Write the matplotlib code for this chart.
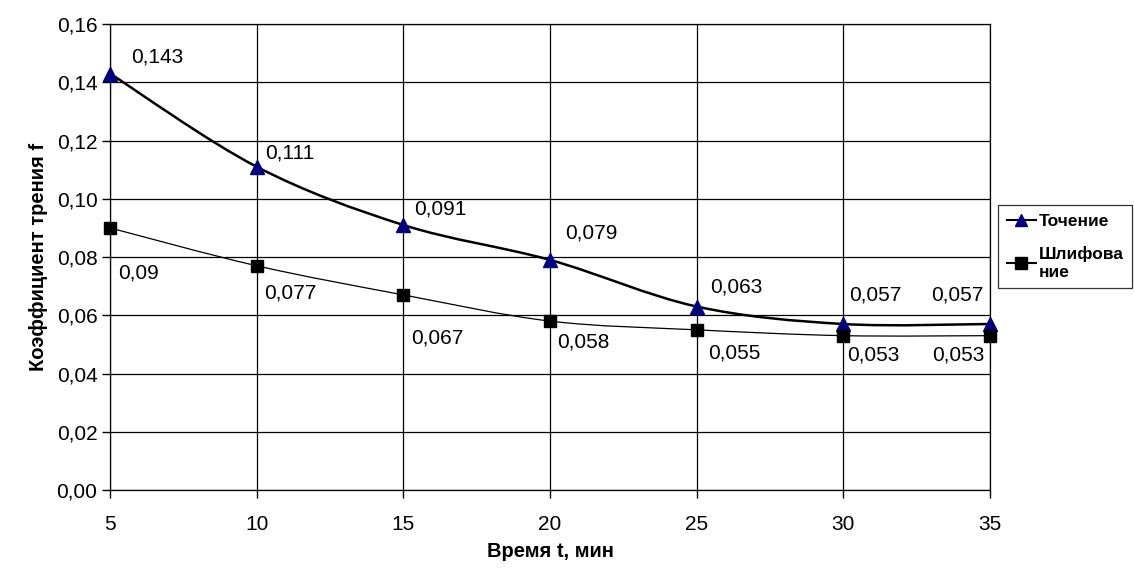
import matplotlib.pyplot as plt
import numpy as np
from matplotlib.path import Path
from matplotlib.patches import PathPatch
from matplotlib.lines import Line2D
from matplotlib.ticker import FuncFormatter

plt.rcParams['font.family'] = ['Liberation Sans', 'DejaVu Sans']

# data
time_min = [5, 10, 15, 20, 25, 30, 35]
tochenie = [0.143, 0.111, 0.091, 0.079, 0.063, 0.057, 0.057]
shlifovanie = [0.09, 0.077, 0.067, 0.058, 0.055, 0.053, 0.053]
name_toch = "Точение"
name_shlif = "Шлифова\nние"

# label offsets in pixels (centre of text relative to marker, y down)
off_toch = [(47, -17), (33, -14), (37, -16), (41, -27), (40, -20), (32, -29), (-33, -29)]
off_shlif = [(29, 45), (34, 27), (34, 43), (33, 21), (38, 23), (30, 19), (-32, 19)]

FS = 15


def smooth_path(xs, ys):
    # Catmull-Rom -> cubic bezier, like excel smoothed lines
    p = np.column_stack([xs, ys]).astype(float)
    pts = np.vstack([p[0], p, p[-1]])
    verts = [p[0]]
    codes = [Path.MOVETO]
    for i in range(1, len(pts) - 2):
        c1 = pts[i] + (pts[i + 1] - pts[i - 1]) / 6.0
        c2 = pts[i + 1] - (pts[i + 2] - pts[i]) / 6.0
        verts += [c1, c2, pts[i + 1]]
        codes += [Path.CURVE4] * 3
    return Path(verts, codes)


fig = plt.figure(figsize=(11.34, 5.68), dpi=100)
ax = fig.add_axes([0.097, 0.1373, 0.776, 0.8204])

ax.add_patch(PathPatch(smooth_path(time_min, tochenie), fc='none', ec='black', lw=1.8, zorder=3))
ax.add_patch(PathPatch(smooth_path(time_min, shlifovanie), fc='none', ec='black', lw=0.9, zorder=3))
ax.plot(time_min, tochenie, ls='none', marker='^', ms=10, color='#000080', zorder=4, clip_on=False)
ax.plot(time_min, shlifovanie, ls='none', marker='s', ms=8.5, color='black', zorder=4, clip_on=False)

for xv, yv, (dx, dy) in zip(time_min, tochenie, off_toch):
    ax.annotate(f"{yv:g}".replace('.', ','), (xv, yv), xytext=(dx, -dy),
                textcoords='offset pixels', ha='center', va='center', fontsize=FS)
for xv, yv, (dx, dy) in zip(time_min, shlifovanie, off_shlif):
    ax.annotate(f"{yv:g}".replace('.', ','), (xv, yv), xytext=(dx, -dy),
                textcoords='offset pixels', ha='center', va='center', fontsize=FS)

ax.set_xlim(5, 35)
ax.set_ylim(0, 0.16)
ax.set_xticks(time_min)
ax.set_yticks(np.arange(0, 0.161, 0.02))
ax.yaxis.set_major_formatter(FuncFormatter(lambda v, _: f"{v:.2f}".replace('.', ',')))
ax.tick_params(axis='both', labelsize=FS, direction='out', length=6, width=1, color='black')
ax.tick_params(axis='x', pad=12)
ax.tick_params(axis='y', pad=3)
ax.grid(True, color='black', lw=0.9)
for s in ax.spines.values():
    s.set_color('black')
    s.set_linewidth(0.9)

ax.set_xlabel("Время t, мин", fontsize=14.5, fontweight='bold', labelpad=6)
ax.set_ylabel("Коэффициент трения f", fontsize=14.5, fontweight='bold', labelpad=6)

handles = [Line2D([], [], color='black', lw=1.5, marker='^', ms=9, mfc='#000080', mec='#000080'),
           Line2D([], [], color='black', lw=1.5, marker='s', ms=8, mfc='black', mec='black')]
leg = fig.legend(handles, [name_toch, name_shlif], loc='upper left',
                 bbox_to_anchor=(998 / 1134, 1 - 205 / 568), borderaxespad=0, frameon=True,
                 fancybox=False, edgecolor='black', handlelength=1.7, handletextpad=0.15,
                 borderpad=0.5, labelspacing=1.0, prop={'weight': 'bold', 'size': 12.5})
leg.get_frame().set_linewidth(0.9)

fig.savefig('out.png', dpi=100, facecolor='white')
